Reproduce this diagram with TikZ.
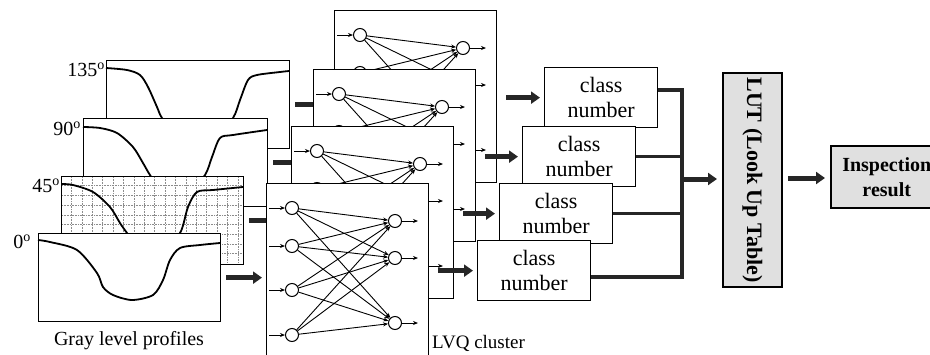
\documentclass[tikz,border=0pt]{standalone}
\usepackage{fontspec}
\setmainfont{Liberation Serif}
\usepackage{tikz}
\usetikzlibrary{arrows.meta, positioning, calc}

\tikzstyle{profbox} = [rectangle, draw=black, fill=white, line width=1.3pt, anchor=north west, minimum height=88pt, inner sep=0pt]
\tikzstyle{profline} = [line width=1.8pt]
\tikzstyle{lvqbox} = [rectangle, draw=black, fill=white, line width=1.3pt, anchor=north west, minimum width=162pt, minimum height=172pt, inner sep=0pt]
\tikzstyle{neuron} = [circle, draw=black, fill=white, line width=1pt, minimum size=13pt, inner sep=0pt]
\tikzstyle{netarrow} = [-{Stealth[length=5pt,width=4pt]}, line width=0.9pt]
\tikzstyle{bigarrow} = [-{Triangle[length=9pt,width=12pt]}, line width=5pt, black!85]
\tikzstyle{classbox} = [rectangle, draw=black, fill=white, line width=1.3pt, anchor=north west,
  minimum width=113pt, minimum height=60pt, align=center, font=\fontsize{22}{25}\selectfont]
\tikzstyle{lutbox} = [rectangle, draw=black, fill=black!12, line width=1.5pt, align=center,
  font=\fontsize{22}{24}\selectfont\bfseries]
\tikzstyle{bus} = [line width=3.5pt, black!85]
\tikzstyle{lbl} = [inner sep=0pt, font=\fontsize{20}{24}\selectfont]

\begin{document}
\begin{tikzpicture}[x=1pt, y=-1pt]
  \useasboundingbox (0,0) rectangle (930,354);

  % gray level profiles, back to front
  \node[profbox, minimum width=183pt] (p135) at (106,60) {};
  \draw[profline, shift={(p135.north west)}] plot[smooth] coordinates
    {(0,8) (21,10) (34,15) (42,27) (51,47) (56,58) (70,75) (110,75) (127,58) (134,40) (142,20) (151,15) (174,12) (183,11)};
  \node[lbl, anchor=east] (l135) at (105,70) {135\textsuperscript{o}};

  \node[profbox, minimum width=184pt] (p90) at (83,118) {};
  \draw[profline, shift={(p90.north west)}] plot[smooth] coordinates
    {(0,9) (17,10) (34,15) (50,29) (60,45) (67,57) (80,75) (105,75) (122,57) (129,39) (137,20) (150,17) (184,12)};
  \node[lbl, anchor=east] (l90) at (81,129) {90\textsuperscript{o}};

  \node[profbox, minimum width=182pt] (p45) at (61,176) {};
  \foreach \gx in {1,...,17}
    \draw[densely dotted, black!45, line width=0.6pt] (61+10.4*\gx,177) -- (61+10.4*\gx,262);
  \foreach \gy in {1,...,8}
    \draw[densely dotted, black!45, line width=0.6pt] (62,176+9.7*\gy) -- (242,176+9.7*\gy);
  \draw[profline, shift={(p45.north west)}] plot[smooth] coordinates
    {(0,8) (12,9) (32,16) (49,31) (59,47) (66,57) (80,75) (100,75) (119,57) (127,31) (136,16) (152,14) (182,11)};
  \node[lbl, anchor=east] (l45) at (60,186) {45\textsuperscript{o}};

  \node[profbox, minimum width=182pt] (p0) at (38,233) {};
  \draw[profline, shift={(p0.north west)}] plot[smooth] coordinates
    {(0,7) (12,9) (39,17) (59,40) (65,54) (75,62) (94,67) (115,62) (125,47) (132,27) (142,15) (162,12) (182,10)};
  \node[lbl, anchor=east] (l0) at (31,242) {0\textsuperscript{o}};

  \node[lbl] (gray) at (129,341) {Gray level profiles};

  % LVQ networks, back to front
  \foreach \k/\bx/\by/\pp in {1/334/10/p135, 2/313/69/p90, 3/291/126/p45, 4/266/183/p0} {
    \draw[bigarrow] ([xshift=5pt]\pp.east) -- ([xshift=-4pt]\pp.east -| \bx,0);
    \node[lvqbox] (lvq\k) at (\bx,\by) {};
    \foreach \i/\yy in {1/25, 2/63, 3/107, 4/152} {
      \node[neuron] (in\k\i) at (\bx+26,\by+\yy) {};
      \coordinate (src\k\i) at (\bx+3,\by+\yy);
      \draw[netarrow] (src\k\i) -- (in\k\i);
    }
    \foreach \j/\yy in {1/38, 2/75, 3/140} {
      \node[neuron] (out\k\j) at (\bx+129,\by+\yy) {};
      \coordinate (dst\k\j) at (\bx+152,\by+\yy);
      \draw[netarrow] (out\k\j) -- (dst\k\j);
    }
    \foreach \i in {1,...,4}
      \foreach \j in {1,2,3}
        \draw[netarrow] (in\k\i) -- (out\k\j);
  }
  \node[lbl, anchor=west, font=\fontsize{19}{23}\selectfont] (lvqlbl) at (432,343) {LVQ cluster};

  % class number boxes
  \foreach \k/\cx/\cy in {1/544/67, 2/522/126, 3/499/183, 4/477/240} {
    \node[classbox] (cn\k) at (\cx,\cy) {class\\number};
    \draw[bigarrow] ([xshift=9pt]cn\k.west -| lvq\k.east) -- ([xshift=-4pt]cn\k.west);
  }

  % collecting bus
  \coordinate (bustop) at (682,90);
  \coordinate (busbot) at (682,277);
  \coordinate (busmid) at (682,179);
  \draw[bus] (cn1.east |- bustop) -- (bustop) -- (busbot) -- (cn4.east |- busbot);
  \draw[bus] (cn2.east) -- (cn2.east -| bustop);
  \draw[bus] (cn3.east) -- (cn3.east -| bustop);

  % look up table and result
  \node[lutbox, rotate=-90, minimum width=214pt, minimum height=59pt] (lut) at (752.5,180) {LUT (Look Up Table)};
  \draw[bigarrow] (busmid) -- (717,179);
  \node[lutbox, anchor=north west, minimum width=112pt, minimum height=62pt, inner sep=0pt,
    font=\fontsize{20}{25}\selectfont\bfseries] (res) at (830,145) {Inspection\\result};
  \draw[bigarrow] (788,178) -- ([xshift=-5pt]res.west |- 0,178);

\end{tikzpicture}
\end{document}
